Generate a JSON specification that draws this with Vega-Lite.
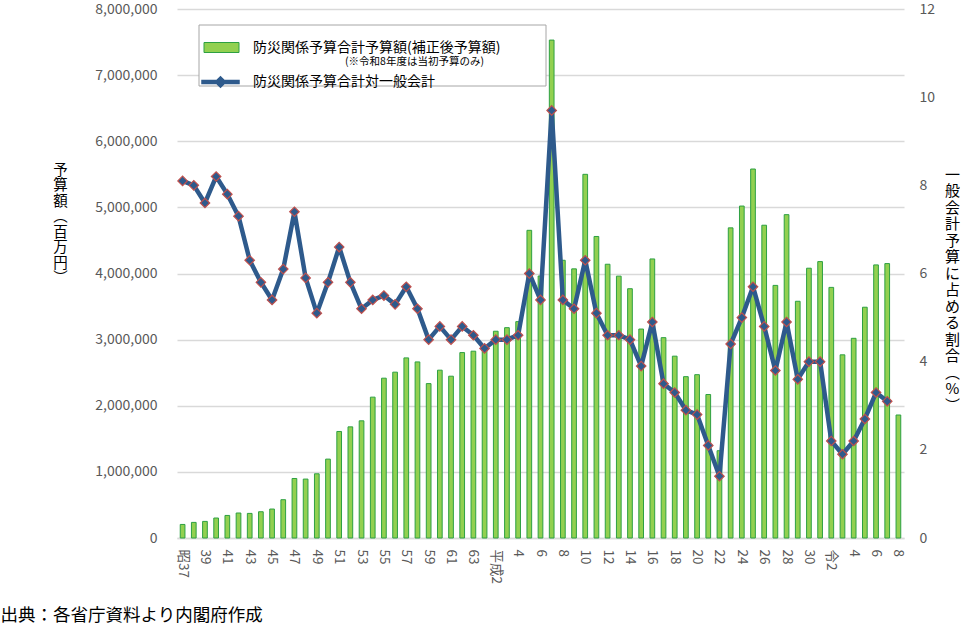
{
  "$schema": "https://vega.github.io/schema/vega-lite/v6.json",
  "width": 727,
  "height": 529,
  "autosize": {"type": "none"},
  "padding": {"left": 177, "top": 9, "right": 59, "bottom": 86},
  "background": "#ffffff",
  "config": {
    "font": "Noto Sans CJK JP",
    "view": {"stroke": null},
    "axis": {"labelFont": "Noto Sans CJK JP", "titleFont": "Noto Sans CJK JP"},
    "legend": {"labelFont": "Noto Sans CJK JP", "titleFont": "Noto Sans CJK JP"}
  },
  "data": {
    "values": [
      {"年度": "昭和37", "予算額": 205000, "割合": 8.1},
      {"年度": "昭和38", "予算額": 236000, "割合": 8.0},
      {"年度": "昭和39", "予算額": 251000, "割合": 7.6},
      {"年度": "昭和40", "予算額": 302000, "割合": 8.2},
      {"年度": "昭和41", "予算額": 341000, "割合": 7.8},
      {"年度": "昭和42", "予算額": 378000, "割合": 7.3},
      {"年度": "昭和43", "予算額": 372000, "割合": 6.3},
      {"年度": "昭和44", "予算額": 397000, "割合": 5.8},
      {"年度": "昭和45", "予算額": 438000, "割合": 5.4},
      {"年度": "昭和46", "予算額": 579000, "割合": 6.1},
      {"年度": "昭和47", "予算額": 900000, "割合": 7.4},
      {"年度": "昭和48", "予算額": 891000, "割合": 5.9},
      {"年度": "昭和49", "予算額": 971000, "割合": 5.1},
      {"年度": "昭和50", "予算額": 1193000, "割合": 5.8},
      {"年度": "昭和51", "予算額": 1611000, "割合": 6.6},
      {"年度": "昭和52", "予算額": 1681000, "割合": 5.8},
      {"年度": "昭和53", "予算額": 1772000, "割合": 5.2},
      {"年度": "昭和54", "予算額": 2130000, "割合": 5.4},
      {"年度": "昭和55", "予算額": 2417000, "割合": 5.5},
      {"年度": "昭和56", "予算額": 2508000, "割合": 5.3},
      {"年度": "昭和57", "予算額": 2724000, "割合": 5.7},
      {"年度": "昭和58", "予算額": 2663000, "割合": 5.2},
      {"年度": "昭和59", "予算額": 2335000, "割合": 4.5},
      {"年度": "昭和60", "予算額": 2538000, "割合": 4.8},
      {"年度": "昭和61", "予算額": 2447000, "割合": 4.5},
      {"年度": "昭和62", "予算額": 2804000, "割合": 4.8},
      {"年度": "昭和63", "予算額": 2825000, "割合": 4.6},
      {"年度": "平成1", "予算額": 2860000, "割合": 4.3},
      {"年度": "平成2", "予算額": 3127000, "割合": 4.5},
      {"年度": "平成3", "予算額": 3181000, "割合": 4.5},
      {"年度": "平成4", "予算額": 3272000, "割合": 4.6},
      {"年度": "平成5", "予算額": 4653000, "割合": 6.0},
      {"年度": "平成6", "予算額": 3962000, "割合": 5.4},
      {"年度": "平成7", "予算額": 7530000, "割合": 9.7},
      {"年度": "平成8", "予算額": 4200000, "割合": 5.4},
      {"年度": "平成9", "予算額": 4070000, "割合": 5.2},
      {"年度": "平成10", "予算額": 5500000, "割合": 6.3},
      {"年度": "平成11", "予算額": 4560000, "割合": 5.1},
      {"年度": "平成12", "予算額": 4140000, "割合": 4.6},
      {"年度": "平成13", "予算額": 3960000, "割合": 4.6},
      {"年度": "平成14", "予算額": 3770000, "割合": 4.5},
      {"年度": "平成15", "予算額": 3160000, "割合": 3.9},
      {"年度": "平成16", "予算額": 4220000, "割合": 4.9},
      {"年度": "平成17", "予算額": 3030000, "割合": 3.5},
      {"年度": "平成18", "予算額": 2750000, "割合": 3.3},
      {"年度": "平成19", "予算額": 2440000, "割合": 2.9},
      {"年度": "平成20", "予算額": 2470000, "割合": 2.8},
      {"年度": "平成21", "予算額": 2170000, "割合": 2.1},
      {"年度": "平成22", "予算額": 1320000, "割合": 1.4},
      {"年度": "平成23", "予算額": 4690000, "割合": 4.4},
      {"年度": "平成24", "予算額": 5020000, "割合": 5.0},
      {"年度": "平成25", "予算額": 5580000, "割合": 5.7},
      {"年度": "平成26", "予算額": 4730000, "割合": 4.8},
      {"年度": "平成27", "予算額": 3820000, "割合": 3.8},
      {"年度": "平成28", "予算額": 4890000, "割合": 4.9},
      {"年度": "平成29", "予算額": 3580000, "割合": 3.6},
      {"年度": "平成30", "予算額": 4080000, "割合": 4.0},
      {"年度": "令和1", "予算額": 4180000, "割合": 4.0},
      {"年度": "令和2", "予算額": 3790000, "割合": 2.2},
      {"年度": "令和3", "予算額": 2770000, "割合": 1.9},
      {"年度": "令和4", "予算額": 3020000, "割合": 2.2},
      {"年度": "令和5", "予算額": 3490000, "割合": 2.7},
      {"年度": "令和6", "予算額": 4130000, "割合": 3.3},
      {"年度": "令和7", "予算額": 4150000, "割合": 3.1},
      {"年度": "令和8", "予算額": 1860000, "割合": null}
    ]
  },
  "encoding": {
    "x": {
      "field": "年度",
      "type": "ordinal",
      "sort": null,
      "scale": {"paddingInner": 0.58, "paddingOuter": 0.29},
      "axis": {
        "values": ["昭和37","昭和39","昭和41","昭和43","昭和45","昭和47","昭和49","昭和51","昭和53","昭和55","昭和57","昭和59","昭和61","昭和63","平成2","平成4","平成6","平成8","平成10","平成12","平成14","平成16","平成18","平成20","平成22","平成24","平成26","平成28","平成30","令和2","令和4","令和6","令和8"],
        "labelExpr": "datum.value == '昭和37' ? '昭37' : datum.value == '平成2' ? '平成2' : datum.value == '令和2' ? '令2' : replace(replace(replace(datum.value, '昭和', ''), '平成', ''), '令和', '')",
        "labelAngle": 90,
        "labelAlign": "left",
        "labelBaseline": "middle",
        "labelPadding": 11,
        "labelFontSize": 13.5,
        "labelColor": "#595959",
        "ticks": false,
        "tickSize": 0,
        "domain": true,
        "domainColor": "#D9D9D9",
        "domainWidth": 1.3,
        "grid": false,
        "title": "出典：各省庁資料より内閣府作成",
        "titleX": -177,
        "titleY": 82,
        "titleAlign": "left",
        "titleBaseline": "alphabetic",
        "titleAngle": 0,
        "titleFontSize": 17.5,
        "titleFontWeight": "normal",
        "titleColor": "#000000"
      }
    }
  },
  "layer": [
    {
      "mark": {"type": "bar", "stroke": "#2DA042", "strokeWidth": 1},
      "encoding": {
        "y": {
          "field": "予算額",
          "type": "quantitative",
          "scale": {"domain": [0, 8000000], "nice": false, "zero": true},
          "axis": {
            "orient": "left",
            "values": [0, 1000000, 2000000, 3000000, 4000000, 5000000, 6000000, 7000000, 8000000],
            "format": ",d",
            "labelFontSize": 14,
            "labelColor": "#595959",
            "labelPadding": 20,
            "ticks": false,
            "tickSize": 0,
            "domain": false,
            "grid": true,
            "gridColor": "#D9D9D9",
            "gridWidth": 1.3,
            "title": ["予","算","額","︵","百","万","円","︶"],
            "titleAngle": 0,
            "titleAlign": "center",
            "titleBaseline": "top",
            "titleX": -117,
            "titleY": 154,
            "titleFontSize": 14.5,
            "titleLineHeight": 15.5,
            "titleFontWeight": "normal",
            "titleColor": "#000000"
          }
        },
        "fill": {
          "datum": "防災関係予算合計予算額(補正後予算額)",
          "type": "nominal",
          "scale": {"range": ["#92D050"]},
          "legend": {
            "orient": "none",
            "legendX": 21.5,
            "legendY": 15.5,
            "title": "国国",
            "titleOrient": "right",
            "titleColor": "#FFFFFF",
            "titleFontSize": 14,
            "titlePadding": 12,
            "padding": 5,
            "strokeColor": "#A6A6A6",
            "fillColor": "#FFFFFF",
            "labelFontSize": 14,
            "labelColor": "#000000",
            "labelLimit": 600,
            "labelOffset": 13.5,
            "symbolType": "M-1,-0.2857H1V0.2857H-1ZM0,1.77",
            "symbolSize": 1225,
            "symbolFillColor": "#92D050",
            "symbolStrokeColor": "#2DA042",
            "symbolStrokeWidth": 1
          }
        }
      }
    },
    {
      "encoding": {
        "y": {
          "field": "割合",
          "type": "quantitative",
          "scale": {"domain": [0, 12], "nice": false, "zero": true},
          "axis": {
            "orient": "right",
            "values": [0, 2, 4, 6, 8, 10, 12],
            "format": "d",
            "labelFontSize": 14,
            "labelColor": "#595959",
            "labelPadding": 15,
            "ticks": false,
            "tickSize": 0,
            "domain": false,
            "grid": false,
            "title": ["一","般","会","計","予","算","に","占","め","る","割","合","︵","%","︶"],
            "titleAngle": 0,
            "titleAlign": "center",
            "titleBaseline": "top",
            "titleX": 48,
            "titleY": 158,
            "titleFontSize": 15,
            "titleLineHeight": 16.5,
            "titleFontWeight": "normal",
            "titleColor": "#000000"
          }
        }
      },
      "layer": [
        {
          "mark": {"type": "line", "strokeWidth": 4.5, "strokeJoin": "round"},
          "encoding": {
            "stroke": {
              "datum": "防災関係予算合計対一般会計",
              "type": "nominal",
              "scale": {"range": ["#2E5A8C"]},
              "legend": {
                "orient": "none",
                "legendX": 24,
                "legendY": 53.5,
                "title": null,
                "padding": 0,
                "labelFontSize": 14,
                "labelColor": "#000000",
                "labelLimit": 600,
                "labelOffset": 13,
                "symbolType": "M-1,-0.03H1V0.03H-1ZM0,-0.22L0.22,0L0,0.22L-0.22,0Z",
                "symbolSize": 1225,
                "symbolFillColor": "#2E5A8C",
                "symbolStrokeWidth": 3.5
              }
            }
          }
        },
        {
          "mark": {"type": "point", "filled": true, "fill": "#2E5A8C", "stroke": "#C0504D", "strokeWidth": 1.2, "size": 90, "opacity": 1},
          "encoding": {
            "shape": {
              "datum": "(※令和8年度は当初予算のみ)",
              "type": "nominal",
              "scale": {"range": ["diamond"]},
              "legend": {
                "orient": "none",
                "legendX": 157.5,
                "legendY": 47.5,
                "title": null,
                "padding": 0,
                "labelFontSize": 10.5,
                "labelColor": "#000000",
                "labelLimit": 500,
                "labelOffset": 0,
                "symbolSize": 0,
                "symbolOpacity": 0,
                "symbolStrokeWidth": 0
              }
            }
          }
        }
      ]
    }
  ],
  "resolve": {"scale": {"y": "independent"}}
}
